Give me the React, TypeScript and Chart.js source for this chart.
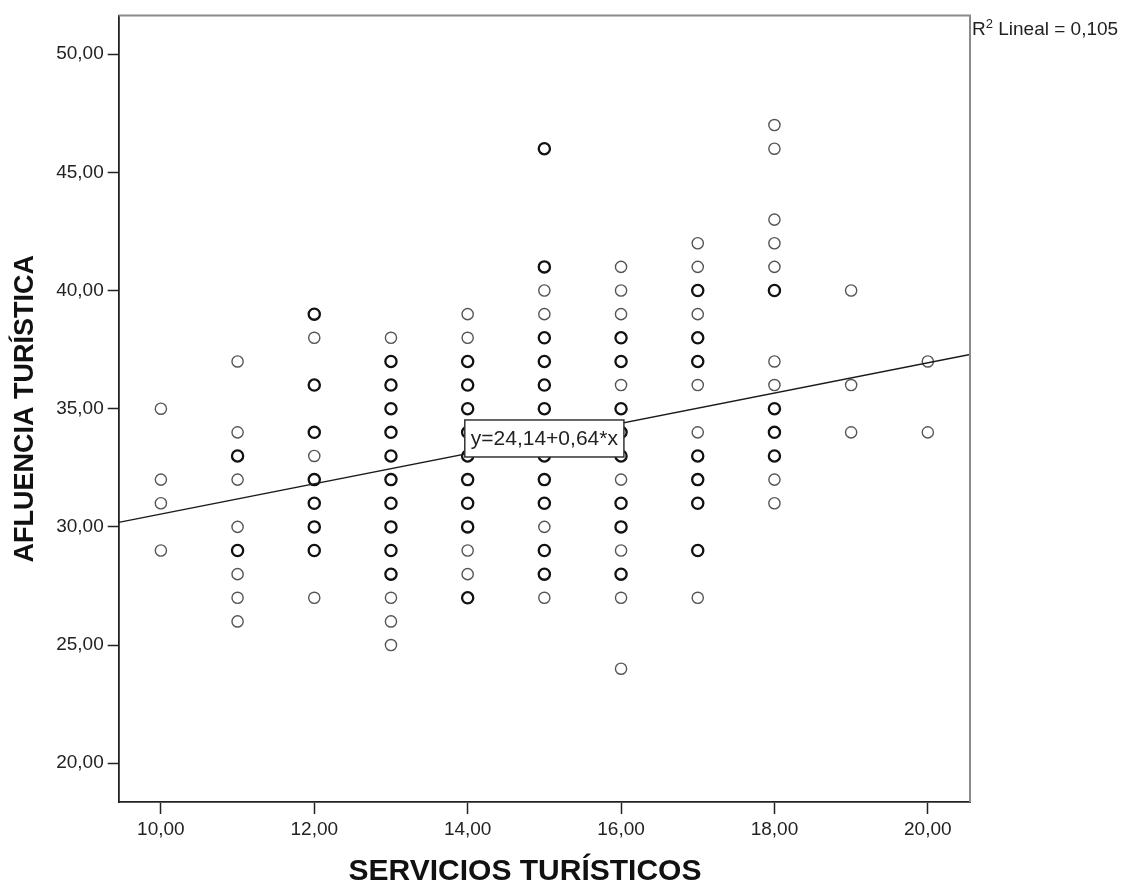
import React, { useEffect, useRef } from "react";
import { Chart, registerables } from "chart.js";

Chart.register(...registerables);

// ---- Data ----
const servicios = [10, 11, 12, 13, 14, 15, 16, 17, 18, 19, 20];
// repeated values = overlapping observations (drawn bolder)
const afluencia10 = [35, 32, 31, 29];
const afluencia11 = [37, 34, 33, 33, 32, 30, 29, 29, 28, 27, 26];
const afluencia12 = [39, 39, 38, 36, 36, 34, 34, 33, 32, 32, 31, 31, 30, 30, 29, 29, 27];
const afluencia13 = [38, 37, 37, 36, 36, 35, 35, 34, 34, 33, 33, 32, 32, 31, 31, 30, 30, 29, 29, 28, 28, 27, 26, 25];
const afluencia14 = [39, 38, 37, 37, 36, 36, 35, 35, 34, 34, 33, 33, 32, 32, 31, 31, 30, 30, 29, 28, 27, 27];
const afluencia15 = [46, 46, 41, 41, 40, 39, 38, 38, 37, 37, 36, 36, 35, 35, 34, 33, 33, 32, 32, 31, 31, 30, 29, 29, 28, 28, 27];
const afluencia16 = [41, 40, 39, 38, 38, 37, 37, 36, 35, 35, 34, 34, 33, 33, 32, 31, 31, 30, 30, 29, 28, 28, 27, 24];
const afluencia17 = [42, 41, 40, 40, 39, 38, 38, 37, 37, 36, 34, 33, 33, 32, 32, 31, 31, 29, 29, 27];
const afluencia18 = [47, 46, 43, 42, 41, 40, 40, 37, 36, 35, 35, 34, 34, 33, 33, 32, 31];
const afluencia19 = [40, 36, 34];
const afluencia20 = [37, 34];
const afluenciaPorServicio = [
  afluencia10, afluencia11, afluencia12, afluencia13, afluencia14, afluencia15,
  afluencia16, afluencia17, afluencia18, afluencia19, afluencia20,
];

const xTicks = [10, 12, 14, 16, 18, 20];
const yTicks = [20, 25, 30, 35, 40, 45, 50];
const xRange = [9.45, 20.55];
const yRange = [18.36, 51.64];

const intercept = 24.14;
const slope = 0.64;
const rSquared = 0.105;

const xTitle = "SERVICIOS TURÍSTICOS";
const yTitle = "AFLUENCIA TURÍSTICA";

const FONT = "'Liberation Sans', Arial, Helvetica, sans-serif";

const fmt = (v: number, d = 2) => v.toFixed(d).replace(".", ",");

function buildPoints() {
  const counts = new Map<string, { x: number; y: number; n: number }>();
  servicios.forEach((x, i) => {
    afluenciaPorServicio[i].forEach((y) => {
      const k = x + "|" + y;
      const e = counts.get(k);
      if (e) e.n += 1;
      else counts.set(k, { x, y, n: 1 });
    });
  });
  return Array.from(counts.values());
}

const decorPlugin = {
  id: "decor",
  afterDatasetsDraw(chart: any) {
    const { ctx, chartArea, scales } = chart;
    // equation box centred on the fit line at x = 15
    const ex = 15;
    const px = scales.x.getPixelForValue(ex);
    const py = scales.y.getPixelForValue(intercept + slope * ex);
    const label = "y=" + fmt(intercept) + "+" + fmt(slope) + "*x";
    ctx.save();
    ctx.font = "21px " + FONT;
    const w = ctx.measureText(label).width + 12;
    const h = 37;
    ctx.fillStyle = "#ffffff";
    ctx.fillRect(px - w / 2, py - h / 2, w, h);
    ctx.strokeStyle = "#333";
    ctx.lineWidth = 1.5;
    ctx.strokeRect(px - w / 2, py - h / 2, w, h);
    ctx.fillStyle = "#222";
    ctx.textAlign = "center";
    ctx.textBaseline = "middle";
    ctx.fillText(label, px, py + 1);
    ctx.restore();

    // top and right frame
    ctx.save();
    ctx.strokeStyle = "#8a8a8a";
    ctx.lineWidth = 2;
    ctx.beginPath();
    ctx.moveTo(chartArea.left, chartArea.top);
    ctx.lineTo(chartArea.right, chartArea.top);
    ctx.lineTo(chartArea.right, chartArea.bottom);
    ctx.stroke();
    ctx.restore();
  },
  afterDraw(chart: any) {
    const { ctx, chartArea } = chart;
    ctx.save();
    ctx.fillStyle = "#111";
    ctx.textAlign = "center";
    ctx.textBaseline = "alphabetic";
    ctx.font = "bold 30px " + FONT;
    ctx.fillText(xTitle, 525, 880);
    ctx.font = "bold 27px " + FONT;
    ctx.translate(33, (chartArea.top + chartArea.bottom) / 2);
    ctx.rotate(-Math.PI / 2);
    ctx.fillText(yTitle, 0, 0);
    ctx.restore();

    // R² label
    ctx.save();
    ctx.fillStyle = "#222";
    ctx.textAlign = "left";
    ctx.textBaseline = "alphabetic";
    let x = chartArea.right + 2;
    const base = 35;
    ctx.font = "19px " + FONT;
    ctx.fillText("R", x, base);
    x += ctx.measureText("R").width;
    ctx.font = "13px " + FONT;
    ctx.fillText("2", x, base - 7);
    x += ctx.measureText("2").width;
    ctx.font = "19px " + FONT;
    ctx.fillText(" Lineal = " + fmt(rSquared, 3), x, base);
    ctx.restore();
  },
};

export default function App() {
  const ref = useRef<HTMLCanvasElement | null>(null);

  useEffect(() => {
    if (!ref.current) return;
    const points = buildPoints();
    const lineData = xRange.map((x) => ({ x, y: intercept + slope * x }));

    const chart = new Chart(ref.current, {
      type: "scatter",
      data: {
        datasets: [
          {
            data: lineData,
            showLine: true,
            borderColor: "#1a1a1a",
            borderWidth: 1.4,
            pointRadius: 0,
            pointHoverRadius: 0,
          },
          {
            data: points as any,
            pointRadius: 5.6,
            pointHoverRadius: 5.6,
            pointBackgroundColor: "rgba(0,0,0,0)",
            pointBorderColor: (c: any) => (c.raw && c.raw.n > 1 ? "#111" : "#555"),
            pointBorderWidth: (c: any) => (c.raw && c.raw.n > 1 ? 2.3 : 1.4),
          },
        ],
      },
      options: {
        responsive: false,
        animation: false,
        devicePixelRatio: 1,
        layout: { padding: { left: 0, top: 12, right: 169, bottom: 0 } },
        plugins: {
          legend: { display: false },
          tooltip: { enabled: false },
        },
        scales: {
          x: {
            type: "linear",
            min: xRange[0],
            max: xRange[1],
            afterBuildTicks: (s: any) => {
              s.ticks = xTicks.map((v) => ({ value: v }));
            },
            afterFit: (s: any) => {
              s.height = 81;
            },
            ticks: {
              callback: (v: any) => fmt(Number(v)),
              color: "#222",
              font: { size: 19, family: FONT },
              padding: 4,
              maxRotation: 0,
              autoSkip: false,
            },
            grid: {
              display: true,
              drawOnChartArea: false,
              drawTicks: true,
              tickLength: 12,
              tickColor: "#222",
              tickWidth: 1.5,
            },
            border: { display: true, color: "#222", width: 1.8 },
          },
          y: {
            type: "linear",
            min: yRange[0],
            max: yRange[1],
            afterBuildTicks: (s: any) => {
              s.ticks = yTicks.map((v) => ({ value: v }));
            },
            afterFit: (s: any) => {
              s.width = 118.7;
            },
            ticks: {
              callback: (v: any) => fmt(Number(v)),
              color: "#222",
              font: { size: 19, family: FONT },
              padding: 4,
              autoSkip: false,
            },
            grid: {
              display: true,
              drawOnChartArea: false,
              drawTicks: true,
              tickLength: 11,
              tickColor: "#222",
              tickWidth: 1.5,
            },
            border: { display: true, color: "#222", width: 1.8 },
          },
        },
      },
      plugins: [decorPlugin],
    });
    return () => chart.destroy();
  }, []);

  return (
    <div style={{ position: "absolute", left: 0, top: 0, width: 1139, height: 883, background: "#fff" }}>
      <canvas ref={ref} width={1139} height={883} style={{ display: "block" }} />
    </div>
  );
}
